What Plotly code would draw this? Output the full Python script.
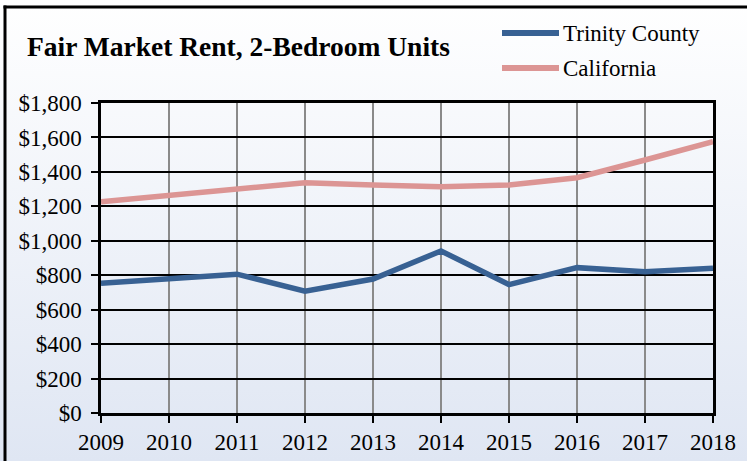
import base64
import plotly.graph_objects as go

# Fair Market Rent for 2-bedroom units, by year
years = [2009, 2010, 2011, 2012, 2013, 2014, 2015, 2016, 2017, 2018]
trinity_county = [754, 780, 806, 707, 778, 941, 745, 844, 820, 840]
california = [1227, 1263, 1295, 1337, 1324, 1314, 1324, 1366, 1469, 1575]
y_ticks = [0, 200, 400, 600, 800, 1000, 1200, 1400, 1600, 1800]
y_tick_labels = ["$" + f"{v:,}" for v in y_ticks]

series_names = ["Trinity County", "California"]
series_colors = ["#386193", "#DC9594"]

W, H = 747, 461
M_L, M_R, M_T, M_B = 101, 34, 103, 48
PW, PH = W - M_L - M_R, H - M_T - M_B
FONT = "Liberation Serif"


def px_x(px):
    """Pixel column -> paper x."""
    return (px - M_L) / PW


def px_y(py):
    """Pixel row (from top) -> paper y."""
    return (H - M_B - py) / PH


fig = go.Figure()
for name, vals, color in zip(series_names, [trinity_county, california], series_colors):
    fig.add_trace(go.Scatter(
        x=years, y=vals, name=name, mode="lines",
        line=dict(color=color, width=5.5),
        showlegend=False,
    ))

# soft white-to-blue vertical gradient behind the whole chart
svg = (
    '<svg xmlns="http://www.w3.org/2000/svg" width="100" height="100" '
    'preserveAspectRatio="none" viewBox="0 0 100 100">'
    '<defs><linearGradient id="g" x1="0" y1="0" x2="0" y2="1">'
    '<stop offset="0" stop-color="#ffffff"/>'
    '<stop offset="1" stop-color="#dfe6f3"/>'
    '</linearGradient></defs>'
    '<rect width="100" height="100" fill="url(#g)"/></svg>'
)
bg_src = "data:image/svg+xml;base64," + base64.b64encode(svg.encode()).decode()

frame = dict(color="black", width=3)
shapes = [
    # outer frame: left and top edges
    dict(type="line", xref="paper", yref="paper",
         x0=px_x(5), x1=px_x(5), y0=px_y(H + 5), y1=px_y(5.5), line=frame, layer="above"),
    dict(type="line", xref="paper", yref="paper",
         x0=px_x(3.5), x1=px_x(W + 5), y0=px_y(7), y1=px_y(7), line=frame, layer="above"),
]
annotations = []
legend_rows = [33, 68]
for name, color, row in zip(series_names, series_colors, legend_rows):
    shapes.append(dict(type="line", xref="paper", yref="paper",
                       x0=px_x(502), x1=px_x(559), y0=px_y(row), y1=px_y(row),
                       line=dict(color=color, width=6)))
    annotations.append(dict(xref="paper", yref="paper", x=px_x(561), y=px_y(row),
                            text=name, showarrow=False, xanchor="left", yanchor="middle",
                            font=dict(family=FONT, size=23, color="black")))

axis_common = dict(
    showline=True, linecolor="black", linewidth=2.5, mirror=True,
    ticks="outside", ticklen=7, tickwidth=2, tickcolor="black",
    tickfont=dict(family=FONT, size=23, color="black"),
    zeroline=False, automargin=False,
)

fig.update_layout(
    width=W, height=H,
    margin=dict(l=M_L, r=M_R, t=M_T, b=M_B),
    paper_bgcolor="white",
    plot_bgcolor="rgba(0,0,0,0)",
    title=dict(text="<b>Fair Market Rent, 2-Bedroom Units</b>",
               x=27 / W, xanchor="left", y=1 - 46 / H, yanchor="middle",
               font=dict(family=FONT, size=27.5, color="black"),
               automargin=False),
    xaxis=dict(range=[years[0], years[-1]], tickmode="array", tickvals=years,
               ticktext=[str(y) for y in years], ticklabelstandoff=0,
               showgrid=True, gridcolor="#8a8a8a", gridwidth=2, **axis_common),
    yaxis=dict(range=[0, 1800], tickmode="array", tickvals=y_ticks, ticktext=y_tick_labels,
               ticklabelstandoff=5,
               showgrid=True, gridcolor="black", gridwidth=2, **axis_common),
    images=[dict(source=bg_src, xref="paper", yref="paper",
                 x=px_x(0), y=px_y(0), sizex=px_x(W) - px_x(0), sizey=px_y(0) - px_y(H),
                 sizing="stretch", xanchor="left", yanchor="top", layer="below")],
    shapes=shapes,
    annotations=annotations,
    showlegend=False,
)

fig.write_html("out.html")
